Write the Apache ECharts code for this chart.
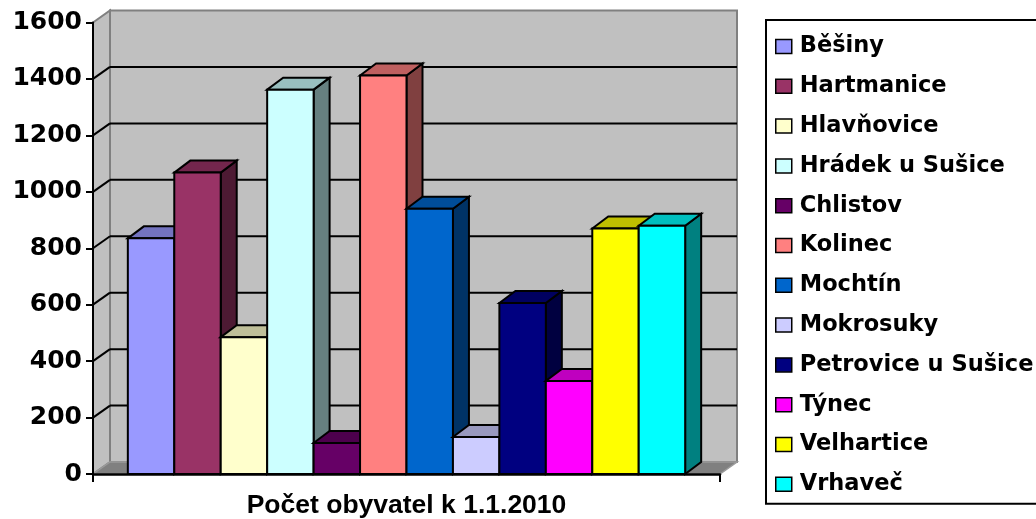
<!DOCTYPE html>
<html><head><meta charset="utf-8">
<script src="https://cdn.jsdelivr.net/npm/echarts@6/dist/echarts.min.js"></script>
<style>html,body{margin:0;padding:0;background:#fff}#c{width:1036px;height:519px}</style>
</head><body><div id="c"></div>
<script>
const categories = ['Běšiny','Hartmanice','Hlavňovice','Hrádek u Sušice','Chlistov','Kolinec','Mochtín','Mokrosuky','Petrovice u Sušice','Týnec','Velhartice','Vrhaveč'];
const values = [835, 1068, 485, 1362, 110, 1412, 940, 131, 606, 330, 870, 880];
const colors = ['#9999FF','#993366','#FFFFCC','#CCFFFF','#660066','#FF8080','#0066CC','#CCCCFF','#000080','#FF00FF','#FFFF00','#00FFFF'];
const yTicks = [0, 200, 400, 600, 800, 1000, 1200, 1400, 1600];
const xCategory = ['Počet obyvatel k 1.1.2010'];

const WALL_DX = 17, WALL_DY = -12;
const BAR_DX = 16, BAR_DY = -12;
const n = categories.length;

function shade(hex, f) {
  const r = parseInt(hex.substr(1,2),16), g = parseInt(hex.substr(3,2),16), b = parseInt(hex.substr(5,2),16);
  const h = v => ('0' + Math.round(v * f).toString(16)).slice(-2);
  return '#' + h(r) + h(g) + h(b);
}

function wallRender(params, api) {
  const v = api.value(1);
  const base = api.coord([0, 0]);
  const band = api.size([1, 0])[0];
  const L = base[0] - band / 2, R = base[0] + band / 2;
  const y0 = base[1];
  const yTop = api.coord([0, yTicks[yTicks.length - 1]])[1];
  const children = [];
  if (params.dataIndex === 0) {
    children.push({type: 'rect', shape: {x: L + WALL_DX, y: yTop + WALL_DY, width: R - L, height: y0 - yTop},
      style: {fill: '#C0C0C0', stroke: '#808080', lineWidth: 2}});
    children.push({type: 'polygon', shape: {points: [[L, yTop], [L + WALL_DX, yTop + WALL_DY], [L + WALL_DX, y0 + WALL_DY], [L, y0]]},
      style: {fill: '#C0C0C0', stroke: '#808080', lineWidth: 2}});
    children.push({type: 'polygon', shape: {points: [[L, y0], [R, y0], [R + WALL_DX, y0 + WALL_DY], [L + WALL_DX, y0 + WALL_DY]]},
      style: {fill: '#808080', stroke: '#9a9a9a', lineWidth: 1.5}});
  } else if (v < yTicks[yTicks.length - 1]) {
    const y = api.coord([0, v])[1];
    children.push({type: 'line', shape: {x1: L + WALL_DX, y1: y + WALL_DY, x2: R + WALL_DX, y2: y + WALL_DY},
      style: {stroke: '#000', lineWidth: 2}});
    children.push({type: 'line', shape: {x1: L, y1: y, x2: L + WALL_DX, y2: y + WALL_DY},
      style: {stroke: '#000', lineWidth: 2}});
  }
  return {type: 'group', children};
}

function barRender(i) {
  return function (params, api) {
    const base = api.coord([0, 0]);
    const top = api.coord([0, api.value(1)]);
    const band = api.size([1, 0])[0];
    const w = band / (n + 1.5);
    const x0 = base[0] - band / 2 + 0.75 * w + i * w;
    const x1 = x0 + w;
    const y0 = base[1], yt = top[1];
    const c = colors[i];
    const st = {stroke: '#000', lineWidth: 2, lineJoin: 'miter'};
    return {type: 'group', children: [
      {type: 'polygon', shape: {points: [[x1, yt], [x1 + BAR_DX, yt + BAR_DY], [x1 + BAR_DX, y0 + BAR_DY], [x1, y0]]},
        style: Object.assign({fill: shade(c, 0.5)}, st)},
      {type: 'polygon', shape: {points: [[x0, yt], [x0 + BAR_DX, yt + BAR_DY], [x1 + BAR_DX, yt + BAR_DY], [x1, yt]]},
        style: Object.assign({fill: shade(c, 0.75)}, st)},
      {type: 'rect', shape: {x: x0, y: yt, width: w, height: y0 - yt},
        style: Object.assign({fill: c}, st)}
    ]};
  };
}

const series = [{
  name: 'walls', type: 'custom', z: 1, silent: true,
  data: yTicks.map(v => [0, v]), encode: {x: 0, y: 1},
  renderItem: wallRender
}];
categories.forEach((name, i) => {
  series.push({
    name, type: 'custom', z: 2, silent: true,
    itemStyle: {color: colors[i]},
    data: [[0, values[i]]], encode: {x: 0, y: 1},
    renderItem: barRender(i)
  });
});

const chart = echarts.init(document.getElementById('c'), null, {renderer: 'canvas'});
chart.setOption({
  animation: false,
  backgroundColor: '#fff',
  grid: {left: 93, top: 22.5, width: 627, height: 452, containLabel: false},
  xAxis: {
    type: 'category', data: xCategory, z: 10,
    axisLine: {lineStyle: {color: '#000', width: 2.5}},
    axisTick: {show: true, length: 8, lineStyle: {color: '#000', width: 2}},
    axisLabel: {color: '#000', fontFamily: 'Liberation Sans', fontWeight: 'bold', fontSize: 26.5, margin: 18},
    splitLine: {show: false}
  },
  yAxis: {
    type: 'value', min: 0, max: 1600, interval: 200, z: 10,
    axisLine: {show: true, lineStyle: {color: '#000', width: 2}},
    axisTick: {show: true, length: 7, lineStyle: {color: '#000', width: 2}},
    axisLabel: {color: '#000', fontFamily: 'DejaVu Sans', fontWeight: 'bold', fontSize: 25, margin: 11,
      formatter: v => String(v)},
    splitLine: {show: false}
  },
  legend: {
    orient: 'vertical', left: 766, top: 20,
    padding: [15, 40, 8, 9],
    borderColor: '#000', borderWidth: 2, backgroundColor: '#fff',
    itemWidth: 16, itemHeight: 14, itemGap: 16.8,
    icon: 'rect',
    itemStyle: {borderColor: '#000', borderWidth: 1.5},
    textStyle: {color: '#000', fontFamily: 'DejaVu Sans', fontWeight: 'bold', fontSize: 22.5, lineHeight: 22, padding: [0, 0, 0, 3]},
    data: categories
  },
  series
});
</script></body></html>
